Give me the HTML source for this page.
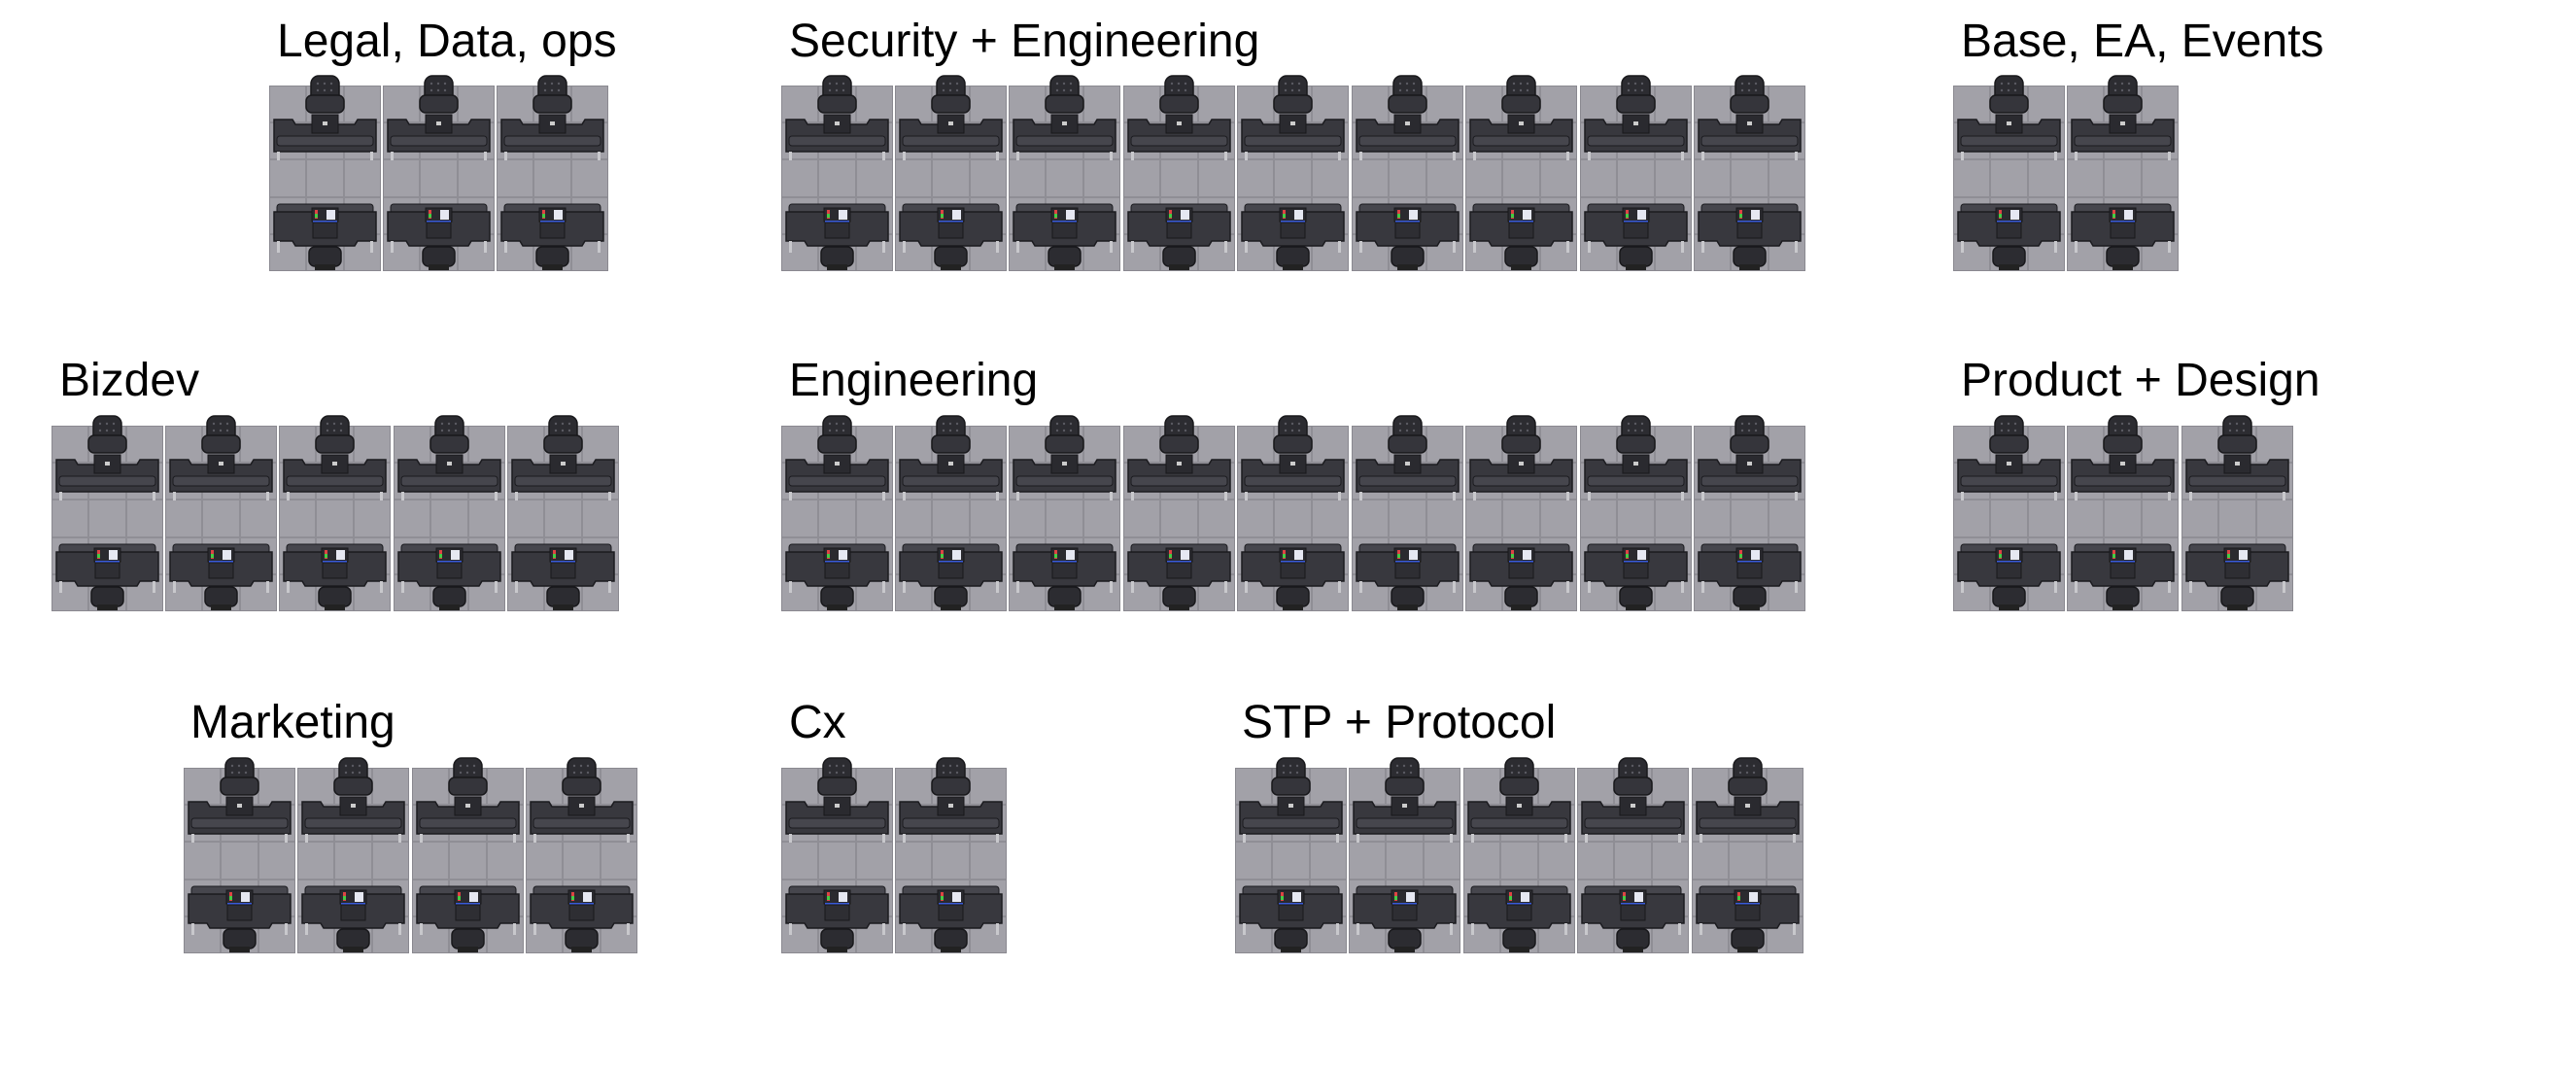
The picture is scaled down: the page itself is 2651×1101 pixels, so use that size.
<!DOCTYPE html>
<html><head><meta charset="utf-8"><style>
html,body{margin:0;padding:0;background:#fff;width:2651px;height:1101px;overflow:hidden}
svg text{font-family:"Liberation Sans",sans-serif;font-size:48px;fill:#000}
</style></head><body>
<svg width="2651" height="1101" viewBox="0 0 2651 1101" xmlns="http://www.w3.org/2000/svg">
<defs>
<g id="d">
<rect x="0" y="0" width="115" height="191" fill="#a2a1a8"/>
<g stroke="#8f8e95" stroke-width="2">
<line x1="38" y1="0" x2="38" y2="191"/><line x1="77" y1="0" x2="77" y2="191"/>
<line x1="0" y1="38" x2="115" y2="38"/><line x1="0" y1="76" x2="115" y2="76"/>
<line x1="0" y1="115" x2="115" y2="115"/><line x1="0" y1="153" x2="115" y2="153"/>
</g>
<rect x="0.5" y="0.5" width="114" height="190" fill="none" stroke="#8a8990"/>
<!-- top chair -->
<rect x="43" y="-10" width="29" height="30" rx="8" fill="#2c2c31" stroke="#18181b" stroke-width="1.5"/>
<rect x="38" y="10" width="39" height="18" rx="6" fill="#35353b" stroke="#18181b" stroke-width="1.5"/>
<g fill="#5a5a62"><circle cx="50" cy="-2" r="1.2"/><circle cx="57" cy="-2" r="1.2"/><circle cx="64" cy="-2" r="1.2"/><circle cx="50" cy="5" r="1.2"/><circle cx="57" cy="5" r="1.2"/><circle cx="64" cy="5" r="1.2"/></g>
<!-- top desk -->
<path d="M5 35 L24 35 L27 40 L88 40 L91 35 L110 35 L110 68 L5 68 Z" fill="#38383e" stroke="#1b1b1f" stroke-width="1.5"/>
<rect x="8" y="52" width="99" height="10" rx="3" fill="#46464d" stroke="#1b1b1f"/>
<rect x="8" y="68" width="3" height="9" fill="#c8c8cc"/><rect x="104" y="68" width="3" height="9" fill="#c8c8cc"/>
<rect x="44" y="30" width="27" height="19" fill="#2a2a2f" stroke="#18181b"/>
<rect x="55" y="37" width="5" height="4" fill="#ccc"/>
<!-- bottom desk -->
<rect x="8" y="122" width="99" height="10" rx="3" fill="#46464d" stroke="#1b1b1f"/>
<path d="M5 130 L110 130 L110 160 L91 160 L88 165 L27 165 L24 160 L5 160 Z" fill="#38383e" stroke="#1b1b1f" stroke-width="1.5"/>
<rect x="8" y="160" width="3" height="12" fill="#c8c8cc"/><rect x="104" y="160" width="3" height="12" fill="#c8c8cc"/>
<rect x="44" y="126" width="27" height="14" fill="#2a2a2f" stroke="#18181b"/>
<rect x="47" y="128" width="3" height="9" fill="#d44"/><rect x="47" y="132" width="3" height="4" fill="#4c4"/>
<rect x="59" y="128" width="9" height="10" fill="#e6e8f2"/>
<rect x="45" y="139" width="25" height="2" fill="#3a5bd8"/>
<rect x="45" y="141" width="25" height="16" fill="#2e2e33" stroke="#18181b"/>
<!-- bottom chair -->
<rect x="41" y="166" width="33" height="20" rx="6" fill="#2c2c31" stroke="#18181b" stroke-width="1.5"/>
<rect x="47" y="184" width="21" height="6" fill="#222"/>
</g>
</defs>
<text x="285" y="58">Legal, Data, ops</text>
<text x="812" y="58">Security + Engineering</text>
<text x="2018" y="58">Base, EA, Events</text>
<text x="61" y="407">Bizdev</text>
<text x="812" y="407">Engineering</text>
<text x="2018" y="407">Product + Design</text>
<text x="196" y="759">Marketing</text>
<text x="812" y="759">Cx</text>
<text x="1278" y="759">STP + Protocol</text>
<g id="rows"></g>
<!-- Legal -->
<use href="#d" x="277" y="88"/><use href="#d" x="394" y="88"/><use href="#d" x="511" y="88"/>
<!-- Security -->
<use href="#d" x="804" y="88"/><use href="#d" x="921" y="88"/><use href="#d" x="1038" y="88"/><use href="#d" x="1156" y="88"/><use href="#d" x="1273" y="88"/><use href="#d" x="1391" y="88"/><use href="#d" x="1508" y="88"/><use href="#d" x="1626" y="88"/><use href="#d" x="1743" y="88"/>
<!-- Base -->
<use href="#d" x="2010" y="88"/><use href="#d" x="2127" y="88"/>
<!-- Bizdev -->
<use href="#d" x="53" y="438"/><use href="#d" x="170" y="438"/><use href="#d" x="287" y="438"/><use href="#d" x="405" y="438"/><use href="#d" x="522" y="438"/>
<!-- Engineering -->
<use href="#d" x="804" y="438"/><use href="#d" x="921" y="438"/><use href="#d" x="1038" y="438"/><use href="#d" x="1156" y="438"/><use href="#d" x="1273" y="438"/><use href="#d" x="1391" y="438"/><use href="#d" x="1508" y="438"/><use href="#d" x="1626" y="438"/><use href="#d" x="1743" y="438"/>
<!-- Product -->
<use href="#d" x="2010" y="438"/><use href="#d" x="2127" y="438"/><use href="#d" x="2245" y="438"/>
<!-- Marketing -->
<use href="#d" x="189" y="790"/><use href="#d" x="306" y="790"/><use href="#d" x="424" y="790"/><use href="#d" x="541" y="790"/>
<!-- Cx -->
<use href="#d" x="804" y="790"/><use href="#d" x="921" y="790"/>
<!-- STP -->
<use href="#d" x="1271" y="790"/><use href="#d" x="1388" y="790"/><use href="#d" x="1506" y="790"/><use href="#d" x="1623" y="790"/><use href="#d" x="1741" y="790"/>
</svg>
</body></html>
